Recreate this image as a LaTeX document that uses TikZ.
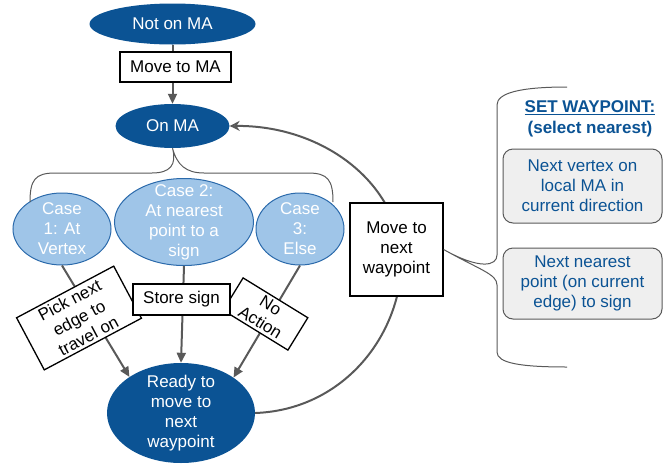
\documentclass[tikz,border=0pt]{standalone}
\usepackage{fontspec}
\setmainfont{Liberation Sans}
\usetikzlibrary{shapes.geometric,arrows.meta}
\definecolor{dblue}{HTML}{0B5394}
\definecolor{lblue}{HTML}{9FC5E8}
\definecolor{eblue}{HTML}{2B6AAB}
\definecolor{lgray}{HTML}{595959}
\definecolor{bgray}{HTML}{EFEFEF}
\newcommand\myfs{\fontsize{17pt}{20pt}\selectfont}
\begin{document}
\begin{tikzpicture}[x=1pt,y=-1pt,
  every node/.style={font=\myfs, align=center, inner sep=0pt},
  darkell/.style={ellipse, fill=dblue, text=white},
  caseell/.style={ellipse, fill=lblue, draw=eblue, line width=1pt},
  whitetxt/.style={text=white},
  plainbox/.style={rectangle, draw=black, line width=1.3pt, fill=white},
  conn/.style={draw=lgray, line width=2pt},
  arr/.style={conn, -{Triangle[length=10pt,width=9pt]}},
  openarr/.style={conn, -{Stealth[open,length=10pt,width=10pt]}},
  bracestyle/.style={draw=lgray, line width=1pt},
  graybox/.style={rectangle, rounded corners=10pt, fill=bgray, draw=lgray, line width=1pt, text=dblue},
  headtxt/.style={text=dblue, font=\myfs\bfseries},
]
\useasboundingbox (0,0) rectangle (667,464);

% top ellipses
\node[darkell, minimum width=166pt, minimum height=41pt] (notma) at (172.5,24) {Not on MA};
\node[plainbox, minimum width=111pt, minimum height=30pt] (mvma) at (175.5,67) {Move to MA};
\node[darkell, minimum width=114pt, minimum height=44pt] (onma) at (172.5,126) {On MA};

% case ellipses
\node[caseell, minimum width=98pt, minimum height=72pt] (c1) at (62,229) {};
\node[whitetxt] (c1t) at (c1) {Case\\1: At\\Vertex};
\node[caseell, minimum width=139pt, minimum height=87pt] (c2) at (184,222) {};
\node[whitetxt] (c2t) at (c2) {Case 2:\\At nearest\\point to a\\sign};
\node[caseell, minimum width=88pt, minimum height=72pt] (c3) at (300,229) {};
\node[whitetxt] (c3t) at (c3) {Case\\3:\\Else};

% ready ellipse
\node[darkell, minimum width=148pt, minimum height=100pt] (ready) at (181,413) {};
\node[whitetxt] (readyt) at (ready) {Ready to\\move to\\next\\waypoint};

% brace from On MA to cases
\draw[bracestyle] (30,202) .. controls (30,180) and (35,173) .. (55,173) -- (152,173)
  .. controls (170,173) and (177,165) .. (onma.south)
  .. controls (177,165) and (186,173) .. (204,173) -- (308,173)
  .. controls (328,173) and (333,180) .. (333,202);

% connectors
\draw[conn] (notma.south) -- (notma.south |- mvma.north);
\draw[arr] (onma.north |- mvma.south) -- (onma.north);
\draw[arr] (c1.south) -- (ready.145);
\draw[arr] (c2.south) -- (ready.north);
\draw[arr] (c3.south) -- (ready.34);

% loop back curve
\coordinate (mid) at (402,260);
\draw[openarr] (ready.east) .. controls (340,410) and (400,340) .. (mid)
  .. controls (398,180) and (320,125) .. (onma.east);

% boxes on the connectors
\node[plainbox, rotate=28, minimum width=110pt, minimum height=59pt] (pick) at (79,318) {Pick next\\edge to\\travel on};
\node[plainbox, rotate=-31.6, minimum width=76pt, minimum height=38pt] (noact) at (265.5,314) {No\\Action};
\node[plainbox, minimum width=97pt, minimum height=31pt] (store) at (181.5,299.5) {Store sign};
\node[plainbox, minimum width=93pt, minimum height=93pt] (mvnext) at (396.5,249.5) {Move to\\next\\waypoint};

% right brace
\draw[bracestyle] (567,87) .. controls (520,87) and (497,93) .. (497,105) -- (497,255)
  .. controls (497,266) and (480,270) .. (mvnext.east)
  .. controls (480,270) and (497,274) .. (497,285) -- (497,352)
  .. controls (497,363) and (520,367) .. (567,367);

% right panel
\node[headtxt] (head1) at (590,108) {\underline{SET WAYPOINT:}};
\node[headtxt] (head2) at (590,129) {(select nearest)};
\node[graybox, minimum width=159pt, minimum height=74pt] (g1) at (582.5,186) {Next vertex on\\local MA in\\current direction};
\node[graybox, minimum width=159pt, minimum height=71pt] (g2) at (582.5,283.5) {Next nearest\\point (on current\\edge) to sign};
\end{tikzpicture}
\end{document}
